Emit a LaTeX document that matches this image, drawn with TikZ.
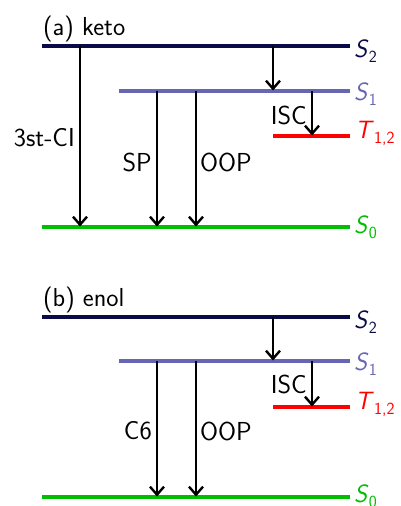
\documentclass[tikz,border=0pt]{standalone}
\usetikzlibrary{arrows.meta}
\definecolor{lvnavy}{RGB}{10,10,70}
\definecolor{lvlav}{RGB}{102,102,178}
\definecolor{lvred}{RGB}{255,0,0}
\definecolor{lvgreen}{RGB}{0,190,0}
\newcommand{\lvlab}[2]{\textsl{#1}\kern0.2pt\raisebox{-0.2em}{\fontsize{17}{19}\selectfont\upshape #2}}
\tikzset{
  level/.style={line width=3.5pt},
  trans/.style={line width=2.7pt,-{Straight Barb[length=8pt,width=14pt,line width=2.4pt]}, shorten >=0.5pt},
  txt/.style={inner sep=0pt,font=\sffamily\fontsize{26}{30}\selectfont},
  stlab/.style={inner sep=0pt,anchor=base west,font=\sffamily\fontsize{25}{28}\selectfont},
}
\begin{document}
\begin{tikzpicture}[x=1pt,y=-1pt]
\useasboundingbox (0,0) rectangle (400,506);
% ---------- panel (a) ----------
\node[txt,anchor=base west] (ta) at (43,35) {(a) keto};
\coordinate (aS2l) at (42,46);  \coordinate (aS2r) at (350,46);
\coordinate (aS1l) at (119,91); \coordinate (aS1r) at (350,91);
\coordinate (aT1l) at (273,136);\coordinate (aT1r) at (350,136);
\coordinate (aS0l) at (42,227); \coordinate (aS0r) at (350,227);
\draw[level,lvnavy] (aS2l) -- (aS2r);
\draw[level,lvlav] (aS1l) -- (aS1r);
\draw[level,lvred] (aT1l) -- (aT1r);
\draw[level,lvgreen] (aS0l) -- (aS0r);
\node[stlab,text=lvnavy] (aLS2) at (354,57) {\lvlab{S}{2}};
\node[stlab,text=lvlav] (aLS1) at (354,100) {\lvlab{S}{1}};
\node[stlab,text=lvred] (aLT) at (355,138) {\lvlab{T}{1,2}};
\node[stlab,text=lvgreen] (aLS0) at (354,233) {\lvlab{S}{0}};
% arrows
\coordinate (a1s) at (80,46);  \coordinate (a1e) at (80,227);
\coordinate (a2s) at (157,91); \coordinate (a2e) at (157,227);
\coordinate (a3s) at (196,91); \coordinate (a3e) at (196,227);
\coordinate (a4s) at (273,46); \coordinate (a4e) at (273,91);
\coordinate (a5s) at (312,91); \coordinate (a5e) at (312,136);
\draw[trans] (a1s) -- (a1e);
\draw[trans] (a2s) -- (a2e);
\draw[trans] (a3s) -- (a3e);
\draw[trans] (a4s) -- (a4e);
\draw[trans] (a5s) -- (a5e);
\node[txt,anchor=east] (aci) at (75,138) {3st-CI};
\node[txt,anchor=east] (asp) at (152,162) {SP};
\node[txt,anchor=west] (aoop) at (200,162) {OOP};
\node[txt,anchor=east] (aisc) at (307,115) {ISC};
% ---------- panel (b) ----------
\node[txt,anchor=base west] (tb) at (43,306) {(b) enol};
\coordinate (bS2l) at (42,317);  \coordinate (bS2r) at (350,317);
\coordinate (bS1l) at (119,361); \coordinate (bS1r) at (350,361);
\coordinate (bT1l) at (273,407); \coordinate (bT1r) at (350,407);
\coordinate (bS0l) at (42,497);  \coordinate (bS0r) at (350,497);
\draw[level,lvnavy] (bS2l) -- (bS2r);
\draw[level,lvlav] (bS1l) -- (bS1r);
\draw[level,lvred] (bT1l) -- (bT1r);
\draw[level,lvgreen] (bS0l) -- (bS0r);
\node[stlab,text=lvnavy] (bLS2) at (354,328) {\lvlab{S}{2}};
\node[stlab,text=lvlav] (bLS1) at (354,370) {\lvlab{S}{1}};
\node[stlab,text=lvred] (bLT) at (355,409) {\lvlab{T}{1,2}};
\node[stlab,text=lvgreen] (bLS0) at (354,502) {\lvlab{S}{0}};
\coordinate (b2s) at (157,361); \coordinate (b2e) at (157,497);
\coordinate (b3s) at (196,361); \coordinate (b3e) at (196,497);
\coordinate (b4s) at (273,317); \coordinate (b4e) at (273,361);
\coordinate (b5s) at (312,361); \coordinate (b5e) at (312,407);
\draw[trans] (b2s) -- (b2e);
\draw[trans] (b3s) -- (b3e);
\draw[trans] (b4s) -- (b4e);
\draw[trans] (b5s) -- (b5e);
\node[txt,anchor=east] (bc6) at (152,431) {C6};
\node[txt,anchor=west] (boop) at (200,431) {OOP};
\node[txt,anchor=east] (bisc) at (307,384) {ISC};
\end{tikzpicture}
\end{document}
